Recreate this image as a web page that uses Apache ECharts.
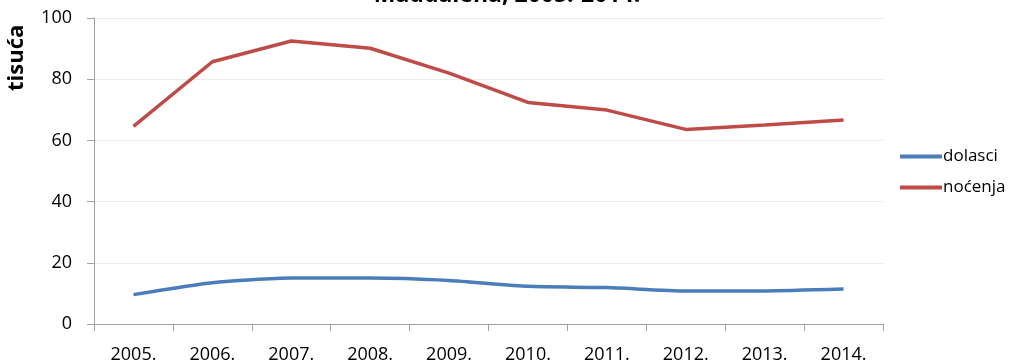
<!DOCTYPE html>
<html><head><meta charset="utf-8">
<script src="https://cdn.jsdelivr.net/npm/echarts@6/dist/echarts.min.js"></script>
<style>html,body{margin:0;padding:0;background:#fff}#c{width:1014px;height:362px}</style>
</head><body><div id="c"></div>
<script>
const categories = ['2005.','2006.','2007.','2008.','2009.','2010.','2011.','2012.','2013.','2014.'];
const dolasci = [9.6, 13.5, 15.0, 15.0, 14.2, 12.3, 11.9, 10.8, 10.8, 11.4];
const nocenja = [64.6, 85.7, 92.5, 90.1, 82.0, 72.4, 69.9, 63.6, 65.0, 66.7];
const seriesNames = ['dolasci', 'noćenja'];
const titleText = 'Maddalena, 2005.-2014.';
const yName = 'tisuća';

const font = '"Open Sans", sans-serif';
const chart = echarts.init(document.getElementById('c'), null, {renderer: 'canvas'});
chart.setOption({
  animation: false,
  backgroundColor: '#fff',
  title: {
    text: titleText, left: 'center', top: -21,
    textStyle: {fontFamily: font, fontSize: 23, fontWeight: 'bold', color: '#000'}
  },
  grid: {left: 94, right: 131, top: 18, bottom: 38, containLabel: false, outerBoundsMode: 'none'},
  legend: {
    orient: 'vertical', left: 895, top: 143, itemGap: 14,
    itemWidth: 42, itemHeight: 4, icon: 'rect',
    textStyle: {fontFamily: font, fontSize: 17, color: '#000', padding: [0,0,0,-4]},
    data: seriesNames
  },
  graphic: [{
    type: 'text', x: 6, y: 91, rotation: Math.PI / 2,
    style: {text: yName, font: 'bold 22px ' + font, fill: '#000'}
  }],
  xAxis: {
    type: 'category', data: categories, boundaryGap: true,
    axisLine: {lineStyle: {color: '#a0a0a0', width: 1}},
    axisTick: {show: true, length: 7, lineStyle: {color: '#a0a0a0'}},
    axisLabel: {fontFamily: font, fontSize: 18, color: '#000', margin: 22}
  },
  yAxis: {
    type: 'value', min: 0, max: 100, interval: 20,
    axisLine: {show: true, lineStyle: {color: '#a0a0a0'}},
    axisTick: {show: true, length: 7, lineStyle: {color: '#a0a0a0'}},
    splitLine: {lineStyle: {color: '#ebebeb'}},
    axisLabel: {fontFamily: font, fontSize: 18, color: '#000', margin: 22}
  },
  series: [
    {name: seriesNames[0], type: 'line', data: dolasci, symbol: 'none', smooth: 0.2,
     lineStyle: {color: '#4A7EBB', width: 3.5}, itemStyle: {color: '#4A7EBB'}},
    {name: seriesNames[1], type: 'line', data: nocenja, symbol: 'none',
     lineStyle: {color: '#BE4B48', width: 3.5}, itemStyle: {color: '#BE4B48'}}
  ]
});
</script></body></html>
